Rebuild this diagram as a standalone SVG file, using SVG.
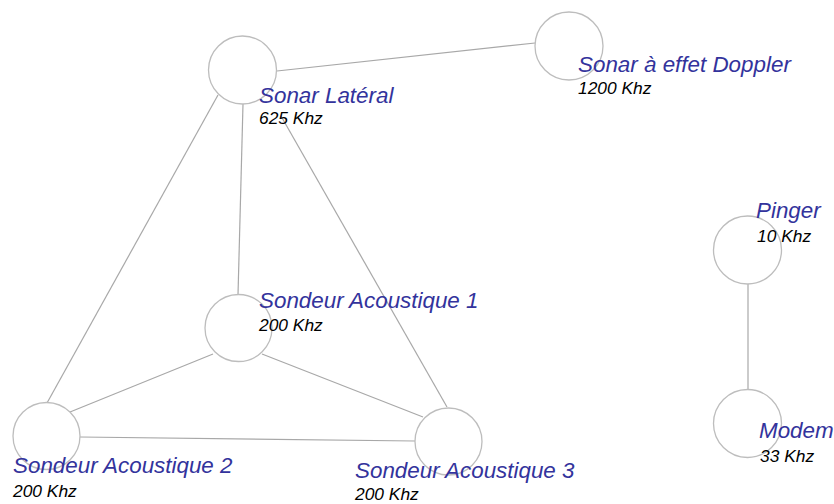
<svg xmlns="http://www.w3.org/2000/svg" width="834" height="504" viewBox="0 0 834 504">
<style>
.edge{stroke:#a8a8a8;stroke-width:1.2;fill:none}
.node circle{fill:#ffffff;stroke:#bdbdbd;stroke-width:1.3}
.title{font-family:"Liberation Sans",Arial,sans-serif;font-style:italic;font-size:22.4px;fill:#33339c}
.freq{font-family:"Liberation Sans",Arial,sans-serif;font-style:italic;font-size:17.4px;fill:#000000}
</style>
<rect width="834" height="504" fill="#ffffff"/>
<g id="connectors">
<line class="edge" x1="277" y1="71" x2="535" y2="43"/>
<line class="edge" x1="243" y1="104" x2="238" y2="295"/>
<line class="edge" x1="218" y1="95" x2="47" y2="403"/>
<line class="edge" x1="281" y1="116" x2="447" y2="407"/>
<line class="edge" x1="213" y1="354" x2="70" y2="412"/>
<line class="edge" x1="262" y1="354" x2="423" y2="417"/>
<line class="edge" x1="80" y1="437" x2="415" y2="441"/>
<line class="edge" x1="748" y1="284" x2="748" y2="390"/>
</g>
<g id="sonar-lateral" class="node">
<circle cx="242.5" cy="70" r="34"/>
<text class="title" x="259" y="103">Sonar Latéral</text>
<text class="freq" x="259" y="124">625 Khz</text>
</g>
<g id="sonar-doppler" class="node">
<circle cx="569" cy="46" r="34"/>
<text class="title" x="578" y="72">Sonar à effet Doppler</text>
<text class="freq" x="578" y="94">1200 Khz</text>
</g>
<g id="pinger" class="node">
<circle cx="747.5" cy="250" r="34"/>
<text class="title" x="756" y="218">Pinger</text>
<text class="freq" x="757" y="242">10 Khz</text>
</g>
<g id="modem" class="node">
<circle cx="747.5" cy="423.5" r="34"/>
<text class="title" x="759" y="438">Modem</text>
<text class="freq" x="760" y="462">33 Khz</text>
</g>
<g id="sondeur-1" class="node">
<circle cx="238.5" cy="328" r="33.5"/>
<text class="title" x="259" y="308">Sondeur Acoustique 1</text>
<text class="freq" x="259" y="331">200 Khz</text>
</g>
<g id="sondeur-2" class="node">
<circle cx="46.5" cy="436" r="33.5"/>
<text class="title" x="13" y="473">Sondeur Acoustique 2</text>
<text class="freq" x="13" y="497">200 Khz</text>
</g>
<g id="sondeur-3" class="node">
<circle cx="448.5" cy="441.5" r="33.5"/>
<text class="title" x="355" y="478">Sondeur Acoustique 3</text>
<text class="freq" x="355" y="500">200 Khz</text>
</g>
</svg>
